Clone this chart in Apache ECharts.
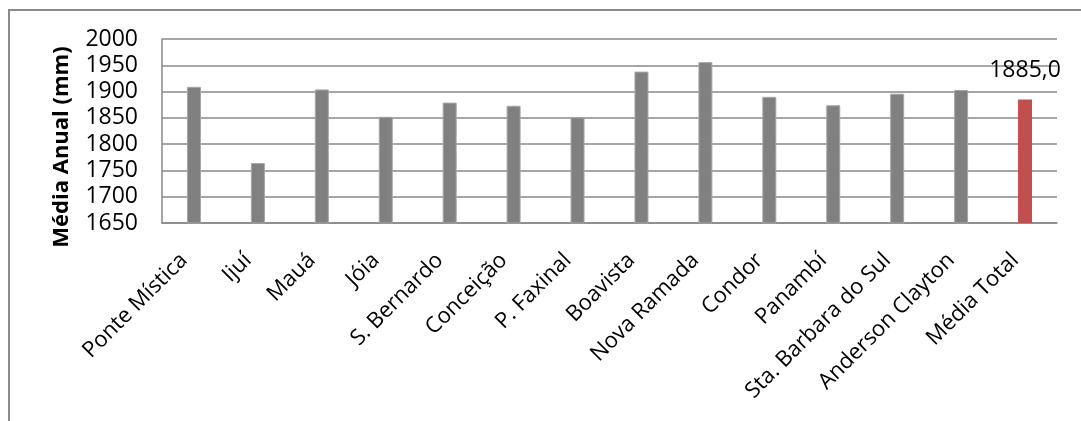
<!DOCTYPE html>
<html>
<head>
<meta charset="utf-8">
<script src="https://cdn.jsdelivr.net/npm/echarts@6/dist/echarts.min.js"></script>
<style>
html,body{margin:0;padding:0;background:#fff;}
#chart{width:1081px;height:421px;}
</style>
</head>
<body>
<div id="chart"></div>
<script>
const categories = ["Ponte Mística","Ijuí","Mauá","Jóia","S. Bernardo","Conceição","P. Faxinal","Boavista","Nova Ramada","Condor","Panambí","Sta. Barbara do Sul","Anderson Clayton","Média Total"];
const values = [1909,1764,1904,1852,1879,1873,1851,1938,1956,1890,1874,1896,1903,1885];
const highlightCategory = "Média Total";
const yAxisName = "Média Anual (mm)";
const yMin = 1650, yMax = 2000, yStep = 50;

const FONT = "Open Sans";
const chart = echarts.init(document.getElementById('chart'), null, {renderer:'canvas'});
const data = values.map((v,i)=>{
  const hi = categories[i]===highlightCategory;
  return {
    value:v,
    itemStyle:{color: hi ? '#C0504D' : '#808080', borderColor: hi ? '#C0504D' : '#a6a6a6', borderWidth: hi?0:1},
    label:{show:hi}
  };
});
chart.setOption({
  animation:false,
  backgroundColor:'#fff',
  grid:{left:162,right:24,top:39,bottom:198,containLabel:false},
  graphic:[
    {type:'rect',shape:{x:9,y:10,width:2000,height:2000},style:{fill:'none',stroke:'#8c8c8c',lineWidth:2},silent:true},
    {type:'text',x:62,y:147,rotation:Math.PI/2,silent:true,
      style:{text:yAxisName,font:'bold 22px "Open Sans"',fill:'#000',align:'center',verticalAlign:'middle'}}
  ],
  xAxis:{
    type:'category',data:categories,
    axisLine:{show:true,lineStyle:{color:'#888',width:1.5}},
    axisTick:{show:false},
    axisLabel:{rotate:45,interval:0,margin:24,padding:[0,14,0,0],fontFamily:FONT,fontSize:22,color:'#000'}
  },
  yAxis:{
    type:'value',min:yMin,max:yMax,interval:yStep,
    axisLine:{show:true,lineStyle:{color:'#888',width:1.5}},
    axisTick:{show:false},
    axisLabel:{margin:24,fontFamily:FONT,fontSize:23,color:'#000',formatter:v=>String(v)},
    splitLine:{show:true,lineStyle:{color:'#888',width:1.5}}
  },
  series:[{
    type:'bar',data:data,barWidth:14,
    label:{position:'top',distance:18,fontFamily:FONT,fontSize:23,color:'#000',
      formatter:p=>p.value.toFixed(1).replace('.',',')}
  }]
});
</script>
</body>
</html>
